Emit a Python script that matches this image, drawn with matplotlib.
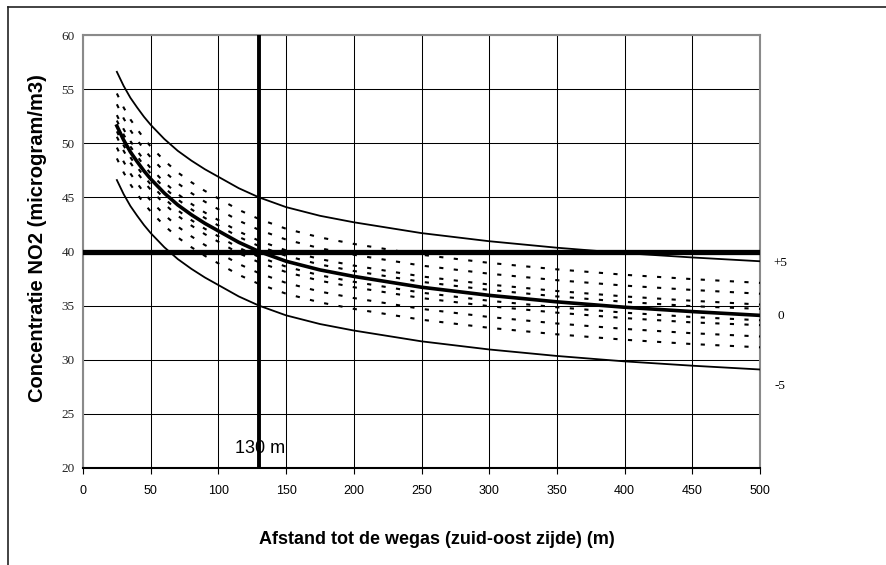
"""
NO2 concentration versus distance to the road (south-east side).
Run with: python plot.py
"""

import matplotlib
matplotlib.use("Agg")
import matplotlib.pyplot as plt
from matplotlib.lines import Line2D

# distance to the road (m)
distance = [25, 30, 35, 40, 45, 50, 60, 70, 80, 90, 100, 115, 130, 150, 175, 200, 250, 300, 350, 400, 450, 500]

# main curve and the +5 / -5 band
no2_mid = [51.6, 50.3, 49.2, 48.3, 47.45, 46.7, 45.4, 44.3, 43.4, 42.6, 41.9, 40.85, 40.0, 39.1, 38.3, 37.7,
           36.7, 35.95, 35.35, 34.85, 34.45, 34.1]
no2_plus5 = [56.6, 55.3, 54.2, 53.3, 52.45, 51.7, 50.4, 49.3, 48.4, 47.6, 46.9, 45.85, 45.0, 44.1, 43.3, 42.7,
             41.7, 40.95, 40.35, 39.85, 39.45, 39.1]
no2_min5 = [46.6, 45.3, 44.2, 43.3, 42.45, 41.7, 40.4, 39.3, 38.4, 37.6, 36.9, 35.85, 35.0, 34.1, 33.3, 32.7,
            31.7, 30.95, 30.35, 29.85, 29.45, 29.1]

# dotted intermediate curves
dot_p3 = [54.6, 53.3, 52.2, 51.3, 50.45, 49.7, 48.4, 47.3, 46.4, 45.6, 44.9, 43.85, 43.0, 42.1, 41.3, 40.7,
          39.7, 38.95, 38.35, 37.85, 37.45, 37.1]
dot_p2 = [53.6, 52.3, 51.2, 50.3, 49.45, 48.7, 47.4, 46.3, 45.4, 44.6, 43.9, 42.85, 42.0, 41.1, 40.3, 39.7,
          38.7, 37.95, 37.35, 36.85, 36.45, 36.1]
dot_p1 = [52.6, 51.3, 50.2, 49.3, 48.45, 47.7, 46.4, 45.3, 44.4, 43.6, 42.9, 41.85, 41.0, 40.1, 39.3, 38.7,
          37.7, 36.95, 36.35, 35.85, 35.45, 35.1]
dot_p05 = [52.1, 50.8, 49.7, 48.8, 47.95, 47.2, 45.9, 44.8, 43.9, 43.1, 42.4, 41.35, 40.5, 39.6, 38.8, 38.2,
           37.2, 36.45, 35.85, 35.35, 34.95, 34.7]
dot_m05 = [51.1, 49.8, 48.7, 47.8, 46.95, 46.2, 44.9, 43.8, 42.9, 42.1, 41.4, 40.35, 39.5, 38.6, 37.8, 37.2,
           36.2, 35.45, 34.85, 34.35, 33.95, 33.65]
dot_m1 = [50.6, 49.3, 48.2, 47.3, 46.45, 45.7, 44.4, 43.3, 42.4, 41.6, 40.9, 39.85, 39.0, 38.1, 37.3, 36.7,
          35.7, 34.95, 34.35, 33.85, 33.45, 33.2]
dot_m2 = [49.6, 48.3, 47.2, 46.3, 45.45, 44.7, 43.4, 42.3, 41.4, 40.6, 39.9, 38.85, 38.0, 37.1, 36.3, 35.7,
          34.7, 33.95, 33.35, 32.85, 32.45, 32.15]
dot_m3 = [48.6, 47.3, 46.2, 45.3, 44.45, 43.7, 42.4, 41.3, 40.4, 39.6, 38.9, 37.85, 37.0, 36.1, 35.3, 34.7,
          33.7, 32.95, 32.35, 31.85, 31.45, 31.15]

limit_value = 40
limit_distance = 130

x_ticks = [0, 50, 100, 150, 200, 250, 300, 350, 400, 450, 500]
y_ticks = [20, 25, 30, 35, 40, 45, 50, 55, 60]

# right-hand labels and their heights
side_labels = ["+5", "0", "-5"]
side_label_y = [38.9, 34.0, 27.6]

SANS = ["Liberation Sans", "DejaVu Sans"]
NARROW = ["Liberation Sans Narrow", "Liberation Sans", "DejaVu Sans"]
SERIF = ["Liberation Serif", "DejaVu Serif"]

fig = plt.figure(figsize=(8.86, 5.65), dpi=100)
ax = fig.add_axes([0.0937, 0.1717, 0.7641, 0.7663])

ax.set_xlim(0, 500)
ax.set_ylim(20, 60)
ax.set_xticks(x_ticks)
ax.set_yticks(y_ticks)
ax.grid(True, color="black", linewidth=0.75)
ax.set_axisbelow(True)

for ys in [dot_p3, dot_p2, dot_p1, dot_p05, dot_m05, dot_m1, dot_m2, dot_m3]:
    ax.plot(distance, ys, color="black", linewidth=1.5, linestyle=(0, (2, 5)), zorder=3)

ax.plot(distance, no2_plus5, color="black", linewidth=1.3, zorder=4)
ax.plot(distance, no2_min5, color="black", linewidth=1.3, zorder=4)
ax.plot(distance, no2_mid, color="black", linewidth=2.6, zorder=5)

ax.axhline(limit_value, color="black", linewidth=3.8, zorder=6)
ax.axvline(limit_distance, color="black", linewidth=2.8, zorder=6)

ax.text(131, 21.8, f"{limit_distance} m", ha="center", va="center", fontsize=13,
        family=SANS, zorder=7)

for lab, yv in zip(side_labels, side_label_y):
    ax.text(515, yv, lab, ha="center", va="center", fontsize=9.5, family=SERIF, clip_on=False)

for side in ["left", "top", "right"]:
    ax.spines[side].set_color("#8a8a8a")
    ax.spines[side].set_linewidth(1.5)
ax.spines["bottom"].set_color("black")
ax.spines["bottom"].set_linewidth(1.5)

ax.tick_params(axis="y", length=0, pad=6)
ax.tick_params(axis="x", length=4, width=0.8, direction="out", pad=8)
for t in ax.get_yticklabels():
    t.set_family(SERIF)
    t.set_fontsize(9.5)
    t.set_color("#222222")
for t in ax.get_xticklabels():
    t.set_family(NARROW)
    t.set_fontsize(9)

ax.set_xlabel("Afstand tot de wegas (zuid-oost zijde) (m)", fontsize=13,
              fontweight="bold", family=SANS)
ax.set_ylabel("Concentratie NO2 (microgram/m3)", fontsize=14.5,
              fontweight="bold", family=SANS)
ax.xaxis.set_label_coords(0.523, -0.145)
ax.yaxis.set_label_coords(-0.053, 0.532)

# outer frame of the original chart object (only top and left edges visible)
fig.add_artist(Line2D([8 / 886, 1.0], [1 - 7 / 565, 1 - 7 / 565], transform=fig.transFigure,
                      color="#222222", linewidth=1.2))
fig.add_artist(Line2D([8 / 886, 8 / 886], [0.0, 1 - 7 / 565], transform=fig.transFigure,
                      color="#222222", linewidth=1.2))

plt.savefig("out.png", dpi=100)
plt.close()
